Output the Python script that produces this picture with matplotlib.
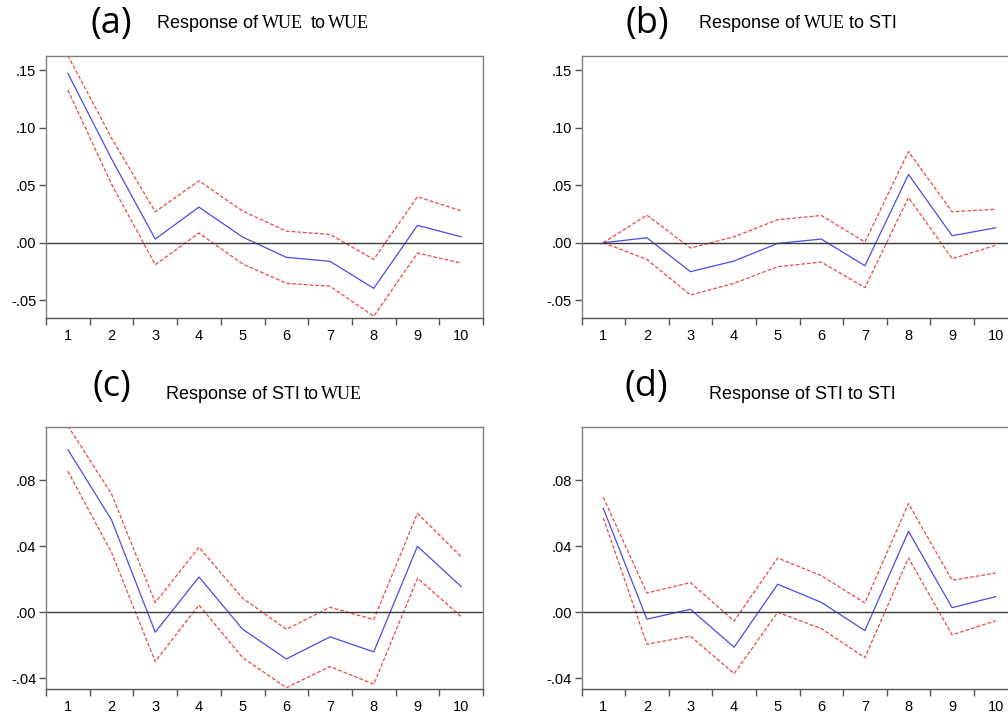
import numpy as np
import matplotlib.pyplot as plt

W, H = 1008, 715

periods = np.arange(1, 11)

#risposte e bande (a) WUE -> WUE
a_resp = [0.1474, 0.073, 0.0032, 0.031, 0.0049, -0.0127, -0.0162, -0.0397, 0.0151, 0.0052]
a_up = [0.163, 0.091, 0.0269, 0.0539, 0.0275, 0.0101, 0.0072, -0.0145, 0.040, 0.0278]
a_lo = [0.1329, 0.051, -0.0191, 0.0084, -0.0185, -0.0353, -0.0379, -0.064, -0.009, -0.0177]

#(b) WUE -> STI
b_resp = [0.0, 0.0043, -0.0252, -0.0159, -0.0006, 0.0032, -0.020, 0.0594, 0.0061, 0.013]
b_up = [0.0, 0.024, -0.0046, 0.0052, 0.020, 0.0237, 0.0006, 0.0794, 0.0269, 0.0292]
b_lo = [0.0, -0.0145, -0.0455, -0.0353, -0.0209, -0.0168, -0.0391, 0.0394, -0.0139, -0.0023]

#(c) STI -> WUE
c_resp = [0.0986, 0.056, -0.0121, 0.0214, -0.0103, -0.0283, -0.0149, -0.024, 0.040, 0.0156]
c_up = [0.113, 0.0717, 0.0059, 0.0394, 0.0085, -0.0103, 0.003, -0.0044, 0.060, 0.0337]
c_lo = [0.0855, 0.0362, -0.0299, 0.0044, -0.0275, -0.0457, -0.0329, -0.0436, 0.0206, -0.0026]

#(d) STI -> STI
d_resp = [0.063, -0.0042, 0.0018, -0.0212, 0.017, 0.006, -0.0111, 0.0491, 0.0028, 0.0095]
d_up = [0.0697, 0.0117, 0.018, -0.0053, 0.0329, 0.0222, 0.0057, 0.0659, 0.0194, 0.0238]
d_lo = [0.0572, -0.0194, -0.0145, -0.0372, 0.0, -0.0099, -0.0275, 0.0329, -0.0137, -0.0051]

yt1 = [-0.05, 0.0, 0.05, 0.10, 0.15]
yl1 = ['-.05', '.00', '.05', '.10', '.15']
yt2 = [-0.04, 0.0, 0.04, 0.08]
yl2 = ['-.04', '.00', '.04', '.08']

SANS = 'Liberation Sans'
SERIF = 'Liberation Serif'

fig = plt.figure(figsize=(W / 100, H / 100), dpi=100)


def pannello(left, right, top, bottom, resp, up, lo, ylim, yt, yl):
    ax = fig.add_axes([left / W, 1 - bottom / H, (right - left) / W, (bottom - top) / H])
    ax.plot(periods, up, color='#f04545', lw=0.9, dashes=(3, 1.6))
    ax.plot(periods, lo, color='#f04545', lw=0.9, dashes=(3, 1.6))
    ax.plot(periods, resp, color='#4b4be6', lw=0.9)
    ax.axhline(0, color='#3a3a3a', lw=1.0)
    ax.set_xlim(0.5, 10.5)
    ax.set_ylim(*ylim)
    ax.set_xticks(np.arange(0.5, 11, 1))
    ax.set_xticklabels([])
    ax.set_xticks(periods, minor=True)
    ax.set_xticklabels([str(p) for p in periods], minor=True, family=SANS, fontsize=10.5)
    ax.tick_params(axis='x', which='major', direction='out', length=5, color='#555555', width=1)
    ax.tick_params(axis='x', which='minor', length=0, pad=8)
    ax.set_yticks(yt)
    ax.set_yticklabels(yl, family=SANS, fontsize=10.5)
    ax.tick_params(axis='y', direction='out', length=5, color='#555555', width=1, pad=2)
    for s in ax.spines.values():
        s.set_color('#808080')
        s.set_linewidth(1.0)
    ax.spines['bottom'].set_color('#555555')
    return ax


pannello(46, 483, 56, 318, a_resp, a_up, a_lo, (-0.0655, 0.1625), yt1, yl1)
pannello(581.5, 1017.5, 56, 318, b_resp, b_up, b_lo, (-0.0655, 0.1625), yt1, yl1)
pannello(46, 483, 426.7, 689.3, c_resp, c_up, c_lo, (-0.0467, 0.1125), yt2, yl2)
pannello(581.5, 1017.5, 426.7, 689.3, d_resp, d_up, d_lo, (-0.0467, 0.1125), yt2, yl2)

#titoli con font misti
r = fig.canvas.get_renderer()


def titolo(lett, xl, yl, x, y, parti):
    fig.text(xl / W, 1 - yl / H, lett, family='Open Sans', fontsize=26,
             ha='center', va='center')
    for s, fam, gap in parti:
        t = fig.text(x / W, 1 - y / H, s, family=fam, fontsize=13, va='baseline', ha='left')
        x += t.get_window_extent(renderer=r).width + gap


titolo('(a)', 111, 24, 157, 28.5,
       [('Response of', SANS, 4), ('WUE', SERIF, 8), ('to', SANS, 2), ('WUE', SERIF, 0)])
titolo('(b)', 647, 24, 699, 28.5,
       [('Response of', SANS, 4), ('WUE', SERIF, 4), ('to STI', SANS, 0)])
titolo('(c)', 112, 387, 166, 399,
       [('Response of STI', SANS, 4), ('to', SANS, 2), ('WUE', SERIF, 0)])
titolo('(d)', 646, 387, 709, 399,
       [('Response of STI to STI', SANS, 0)])

fig.savefig('out.png', dpi=100)
